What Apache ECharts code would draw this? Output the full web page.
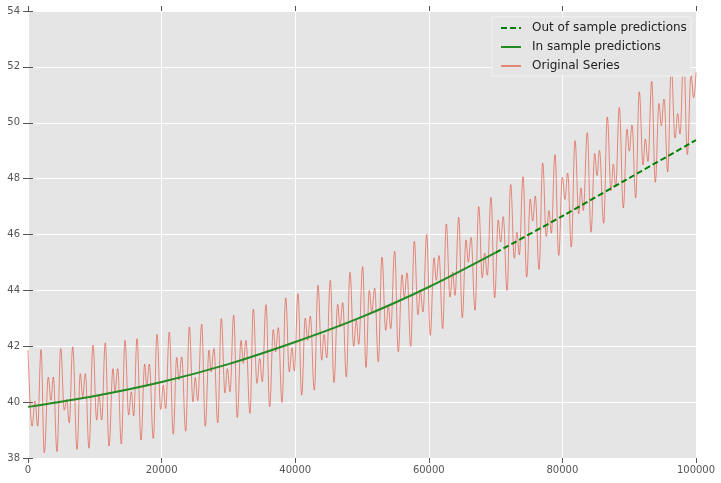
<!DOCTYPE html>
<html>
<head>
<meta charset="utf-8">
<title>Predictions vs original series</title>
<script src="https://cdn.jsdelivr.net/npm/echarts@6/dist/echarts.min.js"></script>
<style>
  html, body { margin: 0; padding: 0; background: #fff; }
  #chart { width: 721px; height: 483px; }
</style>
</head>
<body>
<div id="chart"></div>
<script>
// original series, read peak by peak / trough by trough off the picture
var origX = [
  0, 600, 1050, 1450, 1950, 2440, 3040, 3440, 3790, 4340, 4900, 5430, 5790, 6180, 6690, 7340, 7830, 8190, 8580, 9130,
  9730, 10280, 10630, 11030, 11570, 12130, 12720, 13020, 13430, 13970, 14520, 15070, 15460, 15820, 16320,
  16920, 17470, 17770, 18160, 18760, 19310, 19870, 20250, 20610, 21150, 21750, 22260, 22600, 23010, 23610, 24150,
  24700, 25040, 25400, 26000, 26540, 27100, 27400, 27840, 28400, 28940, 29490, 29840, 30240, 30790, 31330, 31890,
  32230, 32630, 33230, 33730,
  34280, 34690, 35070, 35630, 36180, 36720, 37080, 37470, 38020, 38580, 39120, 39520, 39870, 40420, 40970, 41510,
  41870, 42260, 42860, 43410, 43970, 44310, 44720, 45250, 45810, 46360, 46710, 47110, 47650, 48200, 48760, 49150,
  49510, 50100, 50600,
  51090, 51450, 51900, 52440, 52990, 53550, 53940, 54300, 54890, 55430, 55990, 56330, 56740, 57290, 57830, 58380,
  58730, 59130, 59690, 60220, 60780, 61120, 61530, 62080, 62620, 63170, 63580, 63920, 64480, 65010, 65570, 65910,
  66320, 66920, 67470, 68010,
  68370, 68760, 69310, 69860, 70400, 70760, 71150, 71710, 72260, 72800, 73200, 73550, 74100, 74660, 75190, 75550,
  75940, 76500, 77050, 77590, 77990, 78340, 78890, 79450, 79990, 80390, 80790, 81330, 81890, 82440, 82780, 83130,
  83730, 84280, 84840, 85180, 85550,
  86180, 86720, 87280, 87620, 87980, 88520, 89120, 89670, 90010, 90420, 90970, 91510, 92070, 92410, 92810, 93370,
  93910, 94460, 94810, 95210, 95760, 96300, 96860, 97260, 97600, 98160, 98700, 99250, 99660, 100000
];
var origY = [
  41.86, 39.14, 40.04, 39.14, 41.88, 38.19, 40.9, 40.07, 40.9, 38.23, 41.92, 39.71, 40.1, 39.26, 41.98, 38.31, 41.02, 40.19, 41.02, 38.35,
  42.04, 39.36, 40.25, 39.36, 42.12, 38.43, 41.2, 40.37, 41.2, 38.5, 42.21, 39.54, 40.37, 39.5, 42.27,
  38.64, 41.36, 40.57, 41.36, 38.7, 42.43, 39.74, 40.61, 39.77, 42.51, 38.85, 41.6, 40.79, 41.62, 38.96, 42.69,
  40.01, 40.88, 40.05, 42.79, 39.14, 41.86, 41.08, 41.92, 39.26, 42.99, 40.33, 41.2, 40.37, 43.11, 39.45, 42.21,
  41.38, 42.21, 39.6, 43.33,
  40.67, 41.56, 40.73, 43.49, 39.83, 42.6, 41.8, 42.67, 39.99, 43.73, 41.08, 41.95, 41.12, 43.88, 40.25, 43.01,
  42.21, 43.08, 40.43, 44.18, 41.5, 42.42, 41.58, 44.36, 40.7, 43.5, 42.69, 43.56, 40.9, 44.65, 42.0, 42.93,
  42.07, 44.85, 41.24,
  44.0, 43.23, 44.08, 41.44, 45.19, 42.57, 43.46, 42.63, 45.4, 41.8, 44.56, 43.76, 44.63, 42.0, 45.76, 43.13,
  44.0, 43.23, 46.0, 42.39, 45.17, 44.36, 45.25, 42.63, 46.38, 43.76, 44.65, 43.82, 46.62, 43.02, 45.81, 45.01,
  45.9, 43.29, 47.0, 44.45,
  45.33, 44.54, 47.33, 43.73, 46.52, 45.73, 46.64, 44.0, 47.79, 45.15, 46.08, 45.27, 48.07, 44.48, 47.27, 46.48,
  47.38, 44.75, 48.56, 45.93, 46.86, 46.05, 48.86, 45.25, 48.05, 47.25, 48.2, 45.55, 49.36, 46.74, 47.67, 46.86,
  49.65, 46.08, 48.9, 48.11, 49.01,
  46.4, 50.21, 47.57, 48.52, 47.71, 50.55, 46.95, 49.77, 48.98, 49.92, 47.31, 51.11, 48.49, 49.42, 48.61, 51.48,
  47.87, 50.69, 49.89, 50.85, 48.24, 52.0, 49.45, 50.33, 49.6, 52.4, 48.86, 51.7, 50.9, 51.8
];

// fitted trend, in sample up to 70000 then out of sample
var predX = [0, 10000, 20000, 30000, 40000, 50000, 60000, 70000, 80000, 90000, 100000];
var predY = [39.83, 40.22, 40.72, 41.36, 42.15, 43.05, 44.12, 45.35, 46.66, 48.02, 49.38];
var splitX = 70000;

var xTicks = { min: 0, max: 100000, step: 20000 };
var yTicks = { min: 38, max: 54, step: 2 };

var FONT = 'DejaVu Sans';
var SALMON = 'rgba(226,74,51,0.62)';

function pairs(xs, ys) {
  return xs.map(function (x, i) { return [x, ys[i]]; });
}

var origData = pairs(origX, origY);
var predData = pairs(predX, predY);
var inSample = predData.filter(function (p) { return p[0] <= splitX; });
var outSample = predData.filter(function (p) { return p[0] >= splitX; });

var tick = { show: true, length: 5, lineStyle: { color: '#555', width: 1 } };

function xAxisAt(pos, main) {
  return {
    type: 'value', position: pos,
    min: xTicks.min, max: xTicks.max, interval: xTicks.step,
    axisLine: { show: false },
    axisTick: tick,
    axisLabel: {
      show: main, color: '#555', fontSize: 10, fontFamily: FONT, margin: 7,
      formatter: function (v) { return String(v); }
    },
    splitLine: { show: main, lineStyle: { color: '#fff', width: 1 } }
  };
}

function yAxisAt(pos, main) {
  return {
    type: 'value', position: pos,
    min: yTicks.min, max: yTicks.max, interval: yTicks.step,
    axisLine: { show: false },
    axisTick: tick,
    axisLabel: {
      show: main, color: '#555', fontSize: 10, fontFamily: FONT, margin: 8,
      formatter: function (v) { return String(v); }
    },
    splitLine: { show: main, lineStyle: { color: '#fff', width: 1 } }
  };
}

var chart = echarts.init(document.getElementById('chart'));
chart.setOption({
  animation: false,
  backgroundColor: '#fff',
  grid: {
    left: 28, top: 11, right: 25, bottom: 25,
    show: true, backgroundColor: '#E5E5E5', borderWidth: 0
  },
  xAxis: [xAxisAt('bottom', true), xAxisAt('top', false)],
  yAxis: [yAxisAt('left', true), yAxisAt('right', false)],
  legend: {
    orient: 'vertical',
    left: 492, top: 17,
    padding: [5, 4, 4, 8],
    itemGap: 7,
    itemWidth: 20, itemHeight: 12,
    backgroundColor: '#E5E5E5',
    borderColor: '#f2f2f2', borderWidth: 1,
    // hide the marker dot, keep only the line sample
    itemStyle: { opacity: 0 },
    textStyle: { color: '#222', fontSize: 12, fontFamily: FONT, padding: [0, 0, 0, 6] },
    data: ['Out of sample predictions', 'In sample predictions', 'Original Series']
  },
  series: [
    {
      name: 'Original Series', type: 'line',
      data: origData,
      symbol: 'none',
      smooth: 0.4, smoothMonotone: 'x',
      lineStyle: { color: SALMON, width: 1 },
      itemStyle: { color: SALMON },
      z: 2
    },
    {
      name: 'In sample predictions', type: 'line',
      data: inSample,
      symbol: 'none', smooth: 0.3,
      lineStyle: { color: '#228B22', width: 2 },
      itemStyle: { color: '#228B22' },
      z: 3
    },
    {
      name: 'Out of sample predictions', type: 'line',
      data: outSample,
      symbol: 'none', smooth: 0.3,
      lineStyle: { color: '#008000', width: 2, type: [6, 3] },
      itemStyle: { color: '#008000' },
      z: 3
    }
  ]
});
</script>
</body>
</html>
